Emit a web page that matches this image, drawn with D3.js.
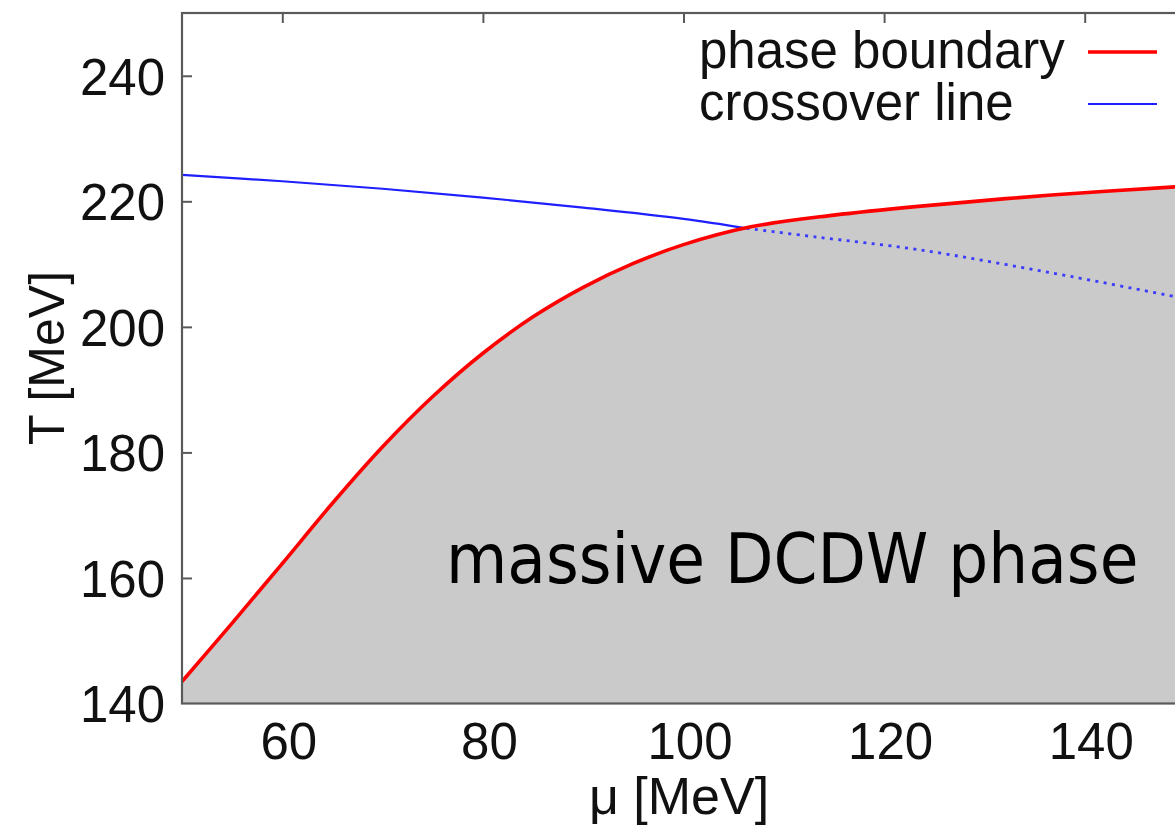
<!DOCTYPE html>
<html>
<head>
<meta charset="utf-8">
<script src="https://cdn.jsdelivr.net/npm/d3@7"></script>
<style>
  body { margin: 0; background: #fff; }
  svg { display: block; }
</style>
</head>
<body>
<div id="chart"></div>
<script>
// phase boundary (red)
const boundaryMu = [50, 55, 60, 65, 70, 75, 80, 85, 90, 95, 100, 106.6, 115, 123.4, 136.7, 150];
const boundaryT  = [143.5, 152.8, 162.3, 171.9, 180.9, 188.9, 195.8, 201.6, 206.3, 210.1, 213.1, 215.9, 217.8, 219.2, 221.0, 222.4];

// crossover line (blue): solid part, then dotted part inside the phase
const crossMu       = [50, 60, 70, 80, 90, 100, 106.3];
const crossT        = [224.2, 223.2, 222.0, 220.6, 219.0, 217.2, 215.7];
const crossDotMu    = [106.3, 113.3, 123.4, 136.7, 150];
const crossDotT     = [215.7, 214.3, 212.3, 208.6, 204.5];

const xTicks = [60, 80, 100, 120, 140];
const yTicks = [140, 160, 180, 200, 220, 240];
const legendNames = ["phase boundary", "crossover line"];

const width = 1175,
      height = 830;
const mLeft = 182, mRight = 1185, mTop = 13, mBottom = 703.5;

const svg = d3.select("#chart")
  .append("svg")
    .attr("width", width)
    .attr("height", height);

const x = d3.scaleLinear().domain([50, 150]).range([mLeft, mRight]);
const y = d3.scaleLinear().domain([140, 250]).range([mBottom, mTop]);

const toPts = (mu, t) => mu.map((m, i) => [m, t[i]]);

svg.append("clipPath")
    .attr("id", "plot")
  .append("rect")
    .attr("x", mLeft)
    .attr("y", mTop)
    .attr("width", mRight - mLeft)
    .attr("height", mBottom - mTop);

const plot = svg.append("g").attr("clip-path", "url(#plot)");

// grey region under the boundary
const area = d3.area()
  .x(d => x(d[0]))
  .y0(y(140))
  .y1(d => y(d[1]))
  .curve(d3.curveCatmullRom.alpha(0.5));

plot.append("path")
  .datum(toPts(boundaryMu, boundaryT))
    .attr("d", area)
    .attr("fill", "#cacaca");

const line = d3.line()
  .x(d => x(d[0]))
  .y(d => y(d[1]))
  .curve(d3.curveCatmullRom.alpha(0.5));

plot.append("path")
  .datum(toPts(crossDotMu, crossDotT))
    .attr("d", line)
    .attr("fill", "none")
    .attr("stroke", "#3b3bff")
    .attr("stroke-width", 2.8)
    .attr("stroke-dasharray", "3,5.4");

plot.append("path")
  .datum(toPts(crossMu, crossT))
    .attr("d", line)
    .attr("fill", "none")
    .attr("stroke", "#1f1fff")
    .attr("stroke-width", 2.2);

plot.append("path")
  .datum(toPts(boundaryMu, boundaryT))
    .attr("d", line)
    .attr("fill", "none")
    .attr("stroke", "#ff0000")
    .attr("stroke-width", 3.6);

// frame and ticks
const frameColor = "#5a5a5a";
svg.append("rect")
    .attr("x", mLeft)
    .attr("y", mTop)
    .attr("width", mRight - mLeft)
    .attr("height", mBottom - mTop)
    .attr("fill", "none")
    .attr("stroke", frameColor)
    .attr("stroke-width", 2.2);

const xAxisTop = d3.axisTop(x).tickValues(xTicks).tickSize(-10).tickFormat("");
svg.append("g")
    .attr("transform", `translate(0,${mTop})`)
    .call(xAxisTop)
    .call(g => g.select(".domain").remove())
    .call(g => g.selectAll("line").attr("stroke", frameColor).attr("stroke-width", 2));

const xAxis = d3.axisBottom(x).tickValues(xTicks).tickSize(0).tickPadding(0);
svg.append("g")
    .attr("transform", `translate(0,${mBottom})`)
    .call(xAxis)
    .call(g => g.select(".domain").remove())
    .call(g => g.selectAll("text")
      .attr("dx", 6)
      .attr("y", 55)
      .attr("dy", 0)
      .attr("fill", "#111")
      .style("font", "51px 'Liberation Sans', Arial, sans-serif"));

const yAxis = d3.axisLeft(y).tickValues(yTicks).tickSize(-10).tickPadding(17);
svg.append("g")
    .attr("transform", `translate(${mLeft},0)`)
    .call(yAxis)
    .call(g => g.select(".domain").remove())
    .call(g => g.selectAll("line").attr("stroke", frameColor).attr("stroke-width", 2))
    .call(g => g.selectAll(".tick").filter(d => d === 140).select("line").remove())
    .call(g => g.selectAll("text")
      .attr("dy", "0.36em")
      .attr("fill", "#111")
      .style("font", "51px 'Liberation Sans', Arial, sans-serif"));

const yAxisRight = d3.axisRight(y).tickValues(yTicks.filter(d => d !== 140)).tickSize(-10).tickFormat("");
svg.append("g")
    .attr("transform", `translate(${mRight},0)`)
    .call(yAxisRight)
    .call(g => g.select(".domain").remove())
    .call(g => g.selectAll("line").attr("stroke", frameColor).attr("stroke-width", 2));

// axis titles
svg.append("text")
    .attr("x", 679)
    .attr("y", 814)
    .attr("text-anchor", "middle")
    .attr("fill", "#111")
    .style("font", "52px 'Liberation Sans', Arial, sans-serif")
    .text("μ [MeV]");

svg.append("text")
    .attr("transform", "translate(64,358) rotate(-90)")
    .attr("text-anchor", "middle")
    .attr("fill", "#111")
    .style("font", "50px 'Liberation Sans', Arial, sans-serif")
    .text("T [MeV]");

// legend
const legendColors = ["#ff0000", "#1f1fff"];
const legendWidths = [3.6, 2.2];
const legend = svg.selectAll(".legend-item")
  .data(legendNames)
  .enter()
  .append("g")
    .attr("class", "legend-item")
    .attr("transform", (d, i) => `translate(0,${68 + i * 52})`);

legend.append("text")
    .attr("x", 699)
    .attr("text-anchor", "start")
    .attr("fill", "#111")
    .style("font", "51px 'Liberation Sans', Arial, sans-serif")
    .text(d => d);

legend.append("line")
    .attr("x1", 1088)
    .attr("x2", 1157)
    .attr("y1", -16)
    .attr("y2", -16)
    .attr("stroke", (d, i) => legendColors[i])
    .attr("stroke-width", (d, i) => legendWidths[i]);

// phase label
svg.append("text")
    .attr("x", 446)
    .attr("y", 583)
    .attr("fill", "#000")
    .style("font", "70px 'DejaVu Sans Condensed', 'DejaVu Sans', sans-serif")
    .style("font-stretch", "condensed")
    .text("massive DCDW phase");
</script>
</body>
</html>
